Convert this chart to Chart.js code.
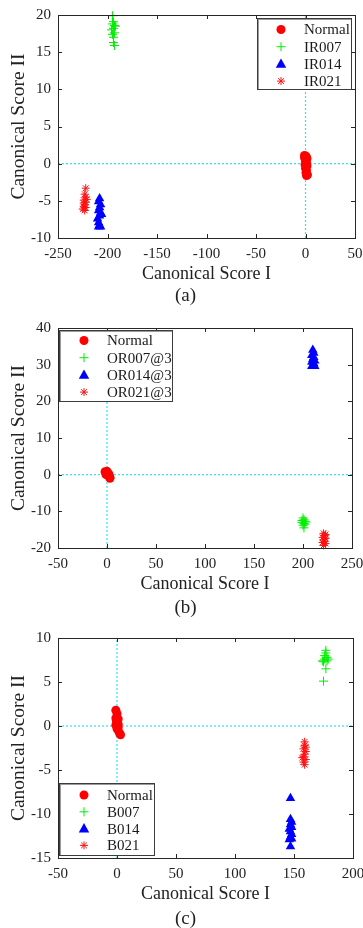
<!DOCTYPE html>
<html>
<head>
<meta charset="utf-8">
<script src="https://cdn.jsdelivr.net/npm/chart.js"></script>
<style>
  body { margin: 0; background: #fff; width: 363px; height: 928px; position: relative; overflow: hidden; font-family: "Liberation Serif", "Times New Roman", serif; }
  .panel { position: absolute; left: 0; width: 363px; height: 290px; }
  .cap { position: absolute; left: 4px; width: 363px; height: 20px; line-height: 20px; text-align: center; font-size: 19px; color: #222; }
</style>
</head>
<body>
<div class="panel" style="top:0"><canvas id="chartA" width="363" height="290"></canvas></div>
<div class="cap" style="top:285px">(a)</div>
<div class="panel" style="top:310px"><canvas id="chartB" width="363" height="290"></canvas></div>
<div class="cap" style="top:597px">(b)</div>
<div class="panel" style="top:620px"><canvas id="chartC" width="363" height="290"></canvas></div>
<div class="cap" style="top:908px">(c)</div>

<script>
// ---- data: [Canonical Score I, Canonical Score II] ----
const aNormal = [[-1,1.1],[0.5,1.0],[1.5,0.7],[0,0.4],[1,0.2],[-0.5,-0.1],[1.5,-0.3],[0,-0.6],[1,-0.9],[0.5,-1.2],[2,-1.5],[1,-1.6],[0.5,0.6],[-1,0.8]];
const aIR007 = [[-195,19.9],[-194,19.1],[-193,18.6],[-196,18.0],[-194,18.2],[-193,17.6],[-195,17.4],[-194,17.0],[-194,16.3],[-193,15.9],[-192,18.5],[-195,18.8]];
const aIR014 = [[-208,-4.7],[-209,-5.1],[-207,-5.5],[-208,-5.9],[-209,-6.3],[-207,-6.6],[-208,-7.0],[-206,-6.8],[-210,-7.4],[-209,-7.9],[-208,-8.3],[-207,-8.5],[-209,-8.5]];
const aIR021 = [[-222,-3.3],[-223,-4.1],[-222,-4.5],[-224,-4.9],[-222,-5.2],[-223,-5.5],[-224,-5.8],[-225,-6.1],[-223,-6.3],[-221,-4.8],[-222,-5.9],[-224,-5.3]];
const aLabels = ["Normal", "IR007", "IR014", "IR021"];

const bNormal = [[-2,0.8],[-1,0.5],[0,0.9],[0,0.2],[1,0.4],[1,-0.2],[2,-0.4],[3,-0.7],[3,-1.0],[-1,0.0],[2,0.1]];
const bOR007 = [[200,-11.8],[201,-12.3],[202,-12.7],[199,-13.0],[201,-13.3],[200,-13.8],[202,-13.5],[201,-14.5],[199,-12.5],[203,-12.9]];
const bOR014 = [[210,34],[211,33.2],[209,32.6],[211,32.0],[210,31.5],[212,31.1],[209,30.7],[211,30.3],[210,29.8],[212,29.6],[209,29.6]];
const bOR021 = [[221,-16.0],[222,-16.6],[220,-17.1],[223,-17.4],[221,-17.8],[222,-18.2],[220,-18.5],[223,-18.8],[221,-19.3],[222,-17.0],[223,-16.3]];
const bLabels = ["Normal", "OR007@3", "OR014@3", "OR021@3"];

const cNormal = [[-1,1.8],[0,1.4],[-1,0.9],[1,0.8],[0,0.4],[-1,0.1],[1,0.2],[0,-0.3],[1,-0.5],[2,-0.8],[3,-1.0],[-0.5,0.6],[1,-0.1]];
const cB007 = [[175,5.1],[177,6.5],[175,7.3],[176,7.6],[178,7.8],[176,8.0],[177,8.3],[177,8.6],[179,7.6],[174,7.4],[178,7.4]];
const cB014 = [[147,-8.2],[147,-10.6],[148,-10.9],[147,-11.2],[148,-11.5],[146,-11.7],[147,-12.0],[148,-12.3],[147,-12.6],[146,-12.9],[148,-12.8],[147,-13.7]];
const cB021 = [[159,-1.8],[159,-2.2],[158,-2.6],[160,-2.9],[159,-3.2],[158,-3.5],[160,-3.8],[157,-3.6],[158,-4.1],[159,-4.4],[160,-2.4]];
const cLabels = ["Normal", "B007", "B014", "B021"];

// axis limits / tick steps
const aX = [-250, 50, 50], aY = [-10, 20, 5];
const bX = [-50, 250, 50], bY = [-20, 40, 10];
const cX = [-50, 200, 50], cY = [-15, 10, 5];

const FONT = '"Liberation Serif", "Times New Roman", serif';
const INK = "#262626";
const CYAN = "#2de3ee";

const markerStyles = [
  { style: "circle", color: "#ff0000", r: 4.5 },
  { style: "cross", color: "#00ee00", r: 4.5 },
  { style: "triangle", color: "#0000ff", r: 5.5 },
  { style: "star", color: "#ff1010", r: 4 },
];

function toXY(pairs) {
  return pairs.map((p) => ({ x: p[0], y: p[1] }));
}

function drawMarker(ctx, style, x, y, r, color) {
  ctx.save();
  ctx.fillStyle = color;
  ctx.strokeStyle = color;
  ctx.lineWidth = 1;
  ctx.beginPath();
  if (style === "circle") {
    ctx.arc(x, y, r, 0, Math.PI * 2);
    ctx.fill();
  } else if (style === "triangle") {
    ctx.moveTo(x, y - r);
    ctx.lineTo(x + r * 0.95, y + r * 0.7);
    ctx.lineTo(x - r * 0.95, y + r * 0.7);
    ctx.closePath();
    ctx.fill();
  } else if (style === "cross") {
    ctx.moveTo(x - r, y); ctx.lineTo(x + r, y);
    ctx.moveTo(x, y - r); ctx.lineTo(x, y + r);
    ctx.stroke();
  } else {
    const d = r * 0.72;
    ctx.moveTo(x - r, y); ctx.lineTo(x + r, y);
    ctx.moveTo(x, y - r); ctx.lineTo(x, y + r);
    ctx.moveTo(x - d, y - d); ctx.lineTo(x + d, y + d);
    ctx.moveTo(x - d, y + d); ctx.lineTo(x + d, y - d);
    ctx.stroke();
  }
  ctx.restore();
}

// box, inward ticks on all four sides, and the boxed legend
const matlabAxes = {
  id: "matlabAxes",
  afterDatasetsDraw(chart, args, opts) {
    const { ctx, chartArea: a, scales } = chart;
    const sx = scales.x, sy = scales.y;
    ctx.save();
    ctx.strokeStyle = INK;
    ctx.lineWidth = 1;
    ctx.strokeRect(Math.round(a.left) + 0.5, Math.round(a.top) + 0.5, Math.round(a.right - a.left), Math.round(a.bottom - a.top));
    const tl = 4;
    ctx.beginPath();
    sx.ticks.forEach((t) => {
      const px = Math.round(sx.getPixelForValue(t.value)) + 0.5;
      ctx.moveTo(px, a.bottom); ctx.lineTo(px, a.bottom - tl);
      ctx.moveTo(px, a.top); ctx.lineTo(px, a.top + tl);
    });
    sy.ticks.forEach((t) => {
      const py = Math.round(sy.getPixelForValue(t.value)) + 0.5;
      ctx.moveTo(a.left, py); ctx.lineTo(a.left + tl, py);
      ctx.moveTo(a.right, py); ctx.lineTo(a.right - tl, py);
    });
    ctx.stroke();

    // legend
    const L = opts.box;
    if (L) {
      ctx.fillStyle = "#fff";
      ctx.fillRect(L.x1, L.y1, L.x2 - L.x1, L.y2 - L.y1);
      ctx.strokeStyle = "#9a9a9a";
      ctx.lineWidth = 1;
      ctx.strokeRect(L.x1 + 1.5, L.y1 + 1.5, L.x2 - L.x1 - 2, L.y2 - L.y1 - 2);
      ctx.strokeStyle = "#3c3c3c";
      ctx.strokeRect(L.x1 + 0.5, L.y1 + 0.5, L.x2 - L.x1 - 1, L.y2 - L.y1 - 1);
      ctx.font = "15px " + FONT;
      ctx.textBaseline = "middle";
      ctx.textAlign = "left";
      opts.labels.forEach((lab, i) => {
        const yy = L.row0 + i * L.step;
        const m = markerStyles[i];
        drawMarker(ctx, m.style, L.mx, yy, m.r, m.color);
        ctx.fillStyle = "#1a1a1a";
        ctx.fillText(lab, L.tx, yy + 1);
      });
    }
    ctx.restore();
  },
};

function makeChart(id, groups, labels, xr, yr, pad, box) {
  const datasets = [
    {
      data: [{ x: xr[0], y: 0 }, { x: xr[1], y: 0 }],
      showLine: true, borderColor: CYAN, borderWidth: 1.2, borderDash: [2, 2],
      pointRadius: 0, clip: false,
    },
    {
      data: [{ x: 0, y: yr[0] }, { x: 0, y: yr[1] }],
      showLine: true, borderColor: CYAN, borderWidth: 1.2, borderDash: [2, 2],
      pointRadius: 0, clip: false,
    },
  ];
  groups.forEach((g, i) => {
    const m = markerStyles[i];
    const filled = m.style === "circle" || m.style === "triangle";
    datasets.push({
      label: labels[i],
      data: toXY(g),
      pointStyle: m.style,
      pointRadius: m.r,
      pointBackgroundColor: m.color,
      pointBorderColor: m.color,
      pointBorderWidth: filled ? 0 : 1,
      showLine: false,
      clip: false,
    });
  });

  const tickFont = { family: FONT, size: 15 };

  return new Chart(document.getElementById(id).getContext("2d"), {
    type: "scatter",
    data: { datasets: datasets.reverse() },
    options: {
      responsive: false,
      animation: false,
      events: [],
      layout: { padding: pad },
      plugins: {
        legend: { display: false },
        tooltip: { enabled: false },
        matlabAxes: { box: box, labels: labels },
      },
      scales: {
        x: {
          type: "linear",
          min: xr[0],
          max: xr[1],
          grid: { display: false, drawTicks: false },
          border: { display: false },
          ticks: { stepSize: xr[2], autoSkip: false, maxRotation: 0, padding: 7, color: "#222", font: tickFont },
          title: { display: true, text: "Canonical Score I", color: "#222", font: { family: FONT, size: 18 }, padding: { top: 0, bottom: 5 } },
          afterFit: (s) => { s.height = 52; s.paddingLeft = 0; s.paddingRight = 0; },
        },
        y: {
          type: "linear",
          min: yr[0],
          max: yr[1],
          grid: { display: false, drawTicks: false },
          border: { display: false },
          ticks: { stepSize: yr[2], autoSkip: false, padding: 7, color: "#222", font: tickFont },
          title: { display: true, text: "Canonical Score II", color: "#222", font: { family: FONT, size: 19.5 }, padding: { top: 7, bottom: 0 } },
          afterFit: (s) => { s.width = 58; s.paddingTop = 0; s.paddingBottom = 0; },
        },
      },
    },
    plugins: [matlabAxes],
  });
}

document.addEventListener("DOMContentLoaded", function () {
  if (typeof Chart === "undefined") {
    console.error("Chart.js not loaded");
    return;
  }
  makeChart("chartA", [aNormal, aIR007, aIR014, aIR021], aLabels, aX, aY,
    { top: 15, right: 8, bottom: 0, left: 0 },
    { x1: 257, y1: 18, x2: 352, y2: 90, mx: 281, tx: 304, row0: 29.5, step: 17.2 });
  makeChart("chartB", [bNormal, bOR007, bOR014, bOR021], bLabels, bX, bY,
    { top: 18, right: 11, bottom: 0, left: 0 },
    { x1: 59, y1: 20, x2: 173, y2: 92, mx: 84, tx: 107, row0: 30.5, step: 17.2 });
  makeChart("chartC", [cNormal, cB007, cB014, cB021], cLabels, cX, cY,
    { top: 18, right: 10, bottom: 0, left: 0 },
    { x1: 59, y1: 163, x2: 155, y2: 236, mx: 84, tx: 107, row0: 175, step: 16.8 });
});
</script>
</body>
</html>
